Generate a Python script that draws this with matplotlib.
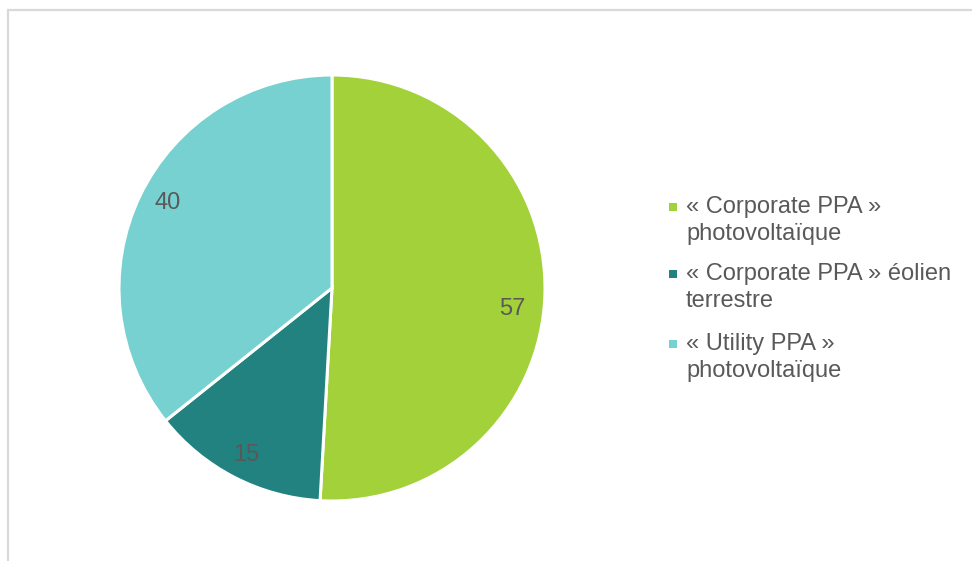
import numpy as np
import matplotlib
matplotlib.use("Agg")
import matplotlib.pyplot as plt
from matplotlib.patches import Rectangle

plt.rcParams['font.family'] = ['Liberation Sans', 'DejaVu Sans']

categories = ["« Corporate PPA »\nphotovoltaïque",
              "« Corporate PPA » éolien\nterrestre",
              "« Utility PPA »\nphotovoltaïque"]
values = [57, 15, 40]
colors = ["#A2D13A", "#21827F", "#77D1D0"]
text_color = "#595959"

W, H = 972, 561
fig = plt.figure(figsize=(W / 100, H / 100), dpi=100)

# outer chart frame (only top and left edges fall inside the canvas)
fig.patches.append(Rectangle((8 / W, -0.1), 1.2, 1 - 10 / H + 0.1,
                             transform=fig.transFigure, fill=False,
                             edgecolor="#D9D9D9", linewidth=1.6))

cx, cy, r = 332, 288, 213
ax = fig.add_axes([(cx - r) / W, (H - cy - r) / H, 2 * r / W, 2 * r / H])
wedges, _ = ax.pie(values, colors=colors, startangle=90, counterclock=False,
                   radius=1.0,
                   wedgeprops=dict(edgecolor="white", linewidth=2.2))
ax.set_xlim(-1, 1)
ax.set_ylim(-1, 1)
ax.set_aspect("equal")
ax.axis("off")

fs = 17

# data labels placed along each wedge's mid angle
label_r = [0.85, 0.88, 0.87]
label_shift = [-5.0, 0.0, -1.5]
for w, v, lr, sh in zip(wedges, values, label_r, label_shift):
    ang = np.deg2rad((w.theta1 + w.theta2) / 2 + sh)
    ax.text(lr * np.cos(ang), lr * np.sin(ang), str(v), ha="center",
            va="center", fontsize=fs, color=text_color)

# legend: square key aligned with the first line of each entry
entry_y = [207, 274, 344]
for lab, col, y in zip(categories, colors, entry_y):
    s = 8
    fig.patches.append(Rectangle(((673 - s / 2) / W, (H - y - s / 2) / H),
                                 s / W, s / H, transform=fig.transFigure,
                                 facecolor=col, edgecolor="none"))
    for i, line in enumerate(lab.split("\n")):
        fig.text(686 / W, (H - y - i * 27) / H, line, ha="left", va="center",
                 fontsize=fs, color=text_color)

fig.savefig("out.png", dpi=100, facecolor="white")
